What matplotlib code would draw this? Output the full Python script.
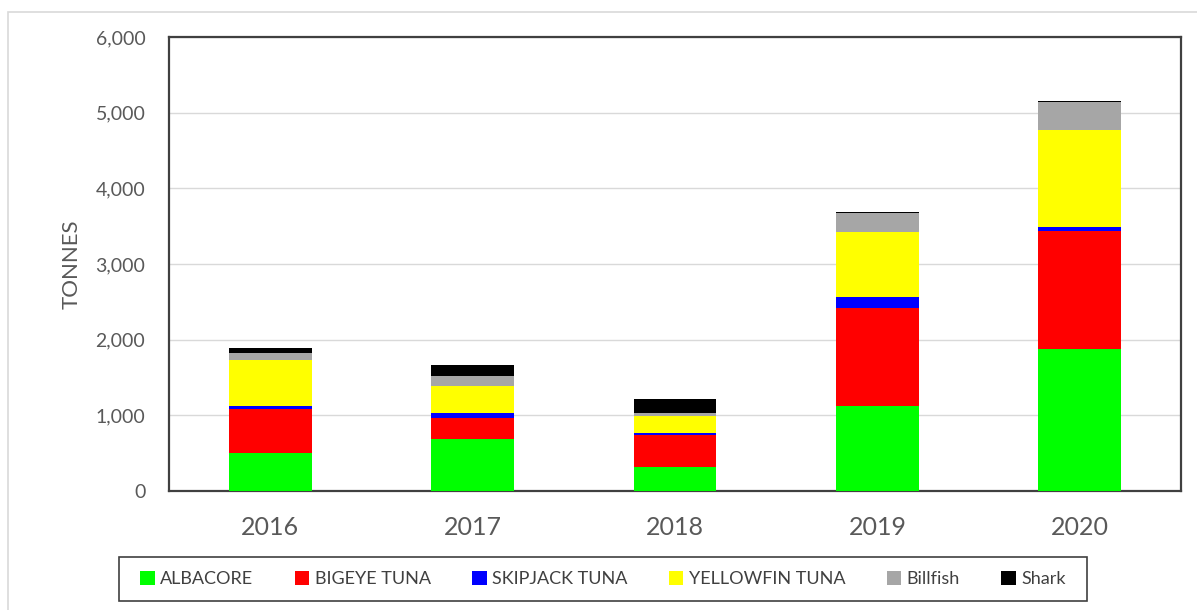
import numpy as np
import matplotlib.pyplot as plt
from matplotlib.patches import Rectangle

years = ['2016', '2017', '2018', '2019', '2020']
albacore = [500, 685, 322, 1117, 1877]
bigeye = [590, 286, 424, 1303, 1563]
skipjack = [27, 66, 26, 146, 53]
yellowfin = [609, 345, 221, 860, 1275]
billfish = [98, 141, 36, 243, 367]
shark = [66, 146, 186, 17, 21]

names = ['ALBACORE', 'BIGEYE TUNA', 'SKIPJACK TUNA', 'YELLOWFIN TUNA', 'Billfish', 'Shark']
colors = ['#00ff00', '#ff0000', '#0000ff', '#ffff00', '#a6a6a6', '#000000']
series = [albacore, bigeye, skipjack, yellowfin, billfish, shark]

plt.rcParams['font.family'] = ['Lato', 'DejaVu Sans']

fig = plt.figure(figsize=(11.97, 6.10), dpi=100)
W, H = 1197, 610
ax = fig.add_axes([169 / W, 1 - 491 / H, (1181 - 169) / W, (491 - 37) / H])

# outer chart frame
fig.patches.append(Rectangle((8 / W, -0.1), 1.2, 1 - 12 / H + 0.1, transform=fig.transFigure,
                             fill=False, edgecolor='#d9d9d9', lw=1.2))
# legend box
fig.patches.append(Rectangle((119 / W, 1 - 601 / H), (1087 - 119) / W, (601 - 557) / H,
                             transform=fig.transFigure, fill=False, edgecolor='#404040', lw=1.2))

x = np.arange(len(years))
bottom = np.zeros(len(years))
handles = []
for name, vals, c in zip(names, series, colors):
    b = ax.bar(x, vals, 0.41, bottom=bottom, color=c, label=name, zorder=3)
    handles.append(b)
    bottom += np.array(vals)

ax.set_xlim(-0.5, len(years) - 0.5)
ax.set_ylim(0, 6000)
ax.set_yticks(np.arange(0, 6001, 1000))
ax.yaxis.set_major_formatter(plt.FuncFormatter(lambda v, p: f'{int(v):,}'))
ax.set_xticks(x)
ax.set_xticklabels(years)
ax.grid(axis='y', color='#d9d9d9', lw=1, zorder=0)
ax.tick_params(length=0)
ax.tick_params(axis='y', labelsize=14, colors='#595959', pad=17)
ax.tick_params(axis='x', labelsize=18, colors='#595959', pad=18)
for s in ax.spines.values():
    s.set_color('#404040')
    s.set_linewidth(1.6)
ax.set_ylabel('TONNES', fontsize=16, color='#595959', labelpad=10)

leg = fig.legend(handles=handles, loc='center', ncol=6,
                 bbox_to_anchor=((119 + 1087) / 2 / W, 1 - 579 / H),
                 fontsize=13, frameon=False,
                 handlelength=0.8, handleheight=0.8, handletextpad=0.3, columnspacing=2.3)
for t in leg.get_texts():
    t.set_color('#404040')

fig.savefig('out.png', dpi=100)
